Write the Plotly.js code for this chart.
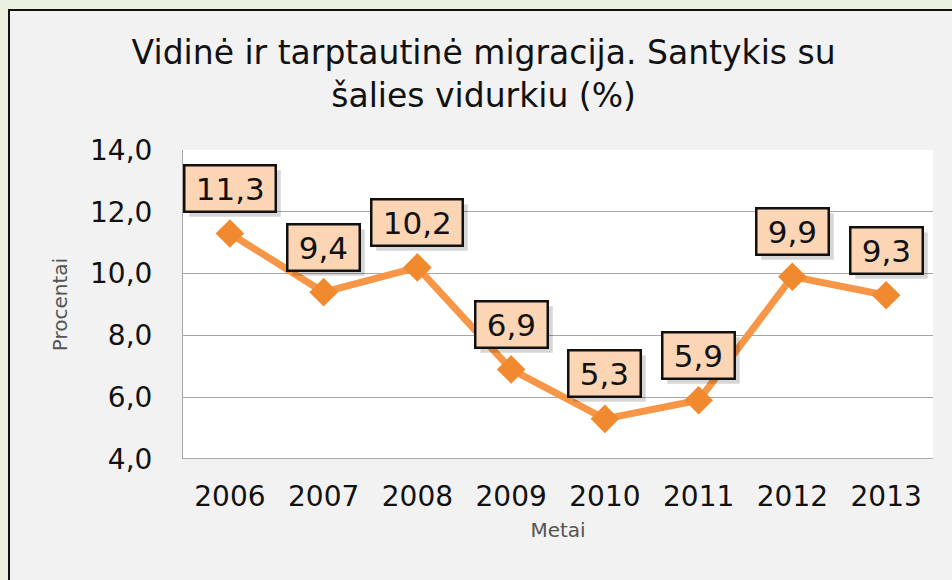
<!DOCTYPE html>
<html>
<head>
<meta charset="utf-8">
<script src="https://cdn.plot.ly/plotly-3.0.1.min.js"></script>
<style>
  html, body { margin: 0; padding: 0; width: 952px; height: 580px; overflow: hidden; background: #EBF1DE; }
  #wrap { position: absolute; left: 8px; top: 9px; width: 960px; height: 590px; border-left: 2.5px solid #111; border-top: 2.5px solid #111; background: #F2F2F2; overflow: hidden; }
  #chart { position: absolute; left: -10.5px; top: -11.5px; width: 952px; height: 580px; }
</style>
</head>
<body>
<div id="wrap"><div id="chart"></div></div>
<script>
const years = [2006, 2007, 2008, 2009, 2010, 2011, 2012, 2013];
const yearLabels = ['2006', '2007', '2008', '2009', '2010', '2011', '2012', '2013'];
const values = [11.3, 9.4, 10.2, 6.9, 5.3, 5.9, 9.9, 9.3];
const labels = ['11,3', '9,4', '10,2', '6,9', '5,3', '5,9', '9,9', '9,3'];
const yTicks = [4, 6, 8, 10, 12, 14];
const yTickText = ['4,0', '6,0', '8,0', '10,0', '12,0', '14,0'];

const font = 'DejaVu Sans, Verdana, sans-serif';

const trace = {
  x: years,
  y: values,
  type: 'scatter',
  mode: 'lines+markers',
  line: { color: '#F79646', width: 7 },
  marker: { symbol: 'diamond', size: 22, color: '#F18A2E', line: { width: 0 } },
  hoverinfo: 'skip'
};

// blank text of the same width, used only for the drop shadow box
const blank = s => '\u2009' + s.replace(/\d/g, '\u2007').replace(/,/g, '\u2008') + '\u2009';

const shadows = years.map((yr, i) => ({
  x: yr, y: values[i], xref: 'x', yref: 'y',
  text: blank(labels[i]), showarrow: false,
  yshift: 40, xshift: 5,
  font: { family: font, size: 31, color: 'rgba(0,0,0,0)' },
  bgcolor: 'rgba(0,0,0,0.16)', bordercolor: 'rgba(0,0,0,0)', borderwidth: 2.5, borderpad: 4
}));
const boxes = years.map((yr, i) => ({
  x: yr, y: values[i], xref: 'x', yref: 'y',
  text: '\u2009' + labels[i] + '\u2009', showarrow: false,
  yshift: 45,
  font: { family: font, size: 31, color: '#111' },
  bgcolor: '#FCD5B5', bordercolor: '#111', borderwidth: 2.5, borderpad: 4
}));

const layout = {
  width: 952, height: 580,
  margin: { l: 183, r: 19, t: 150, b: 121 },
  paper_bgcolor: 'rgba(0,0,0,0)',
  plot_bgcolor: '#FFFFFF',
  showlegend: false,
  title: {
    text: 'Vidinė ir tarptautinė migracija. Santykis su<br>šalies vidurkiu (%)',
    font: { family: font, size: 33, color: '#111' },
    x: 0.508, xanchor: 'center', y: 0.89, yanchor: 'top'
  },
  xaxis: {
    range: [2005.5, 2013.5],
    tickmode: 'array',
    tickvals: years,
    ticktext: yearLabels,
    tickfont: { family: font, size: 28, color: '#111' },
    showline: false, showgrid: false, zeroline: false, ticks: '',
    ticklabelstandoff: 18,
    title: { text: 'Metai', font: { family: font, size: 20, color: '#555' }, standoff: 10 },
    fixedrange: true
  },
  yaxis: {
    range: [4, 14],
    tickmode: 'array',
    tickvals: yTicks,
    ticktext: yTickText,
    tickfont: { family: font, size: 28, color: '#111' },
    showgrid: true, gridcolor: '#A6A6A6', gridwidth: 1,
    showline: true, linecolor: '#A6A6A6', linewidth: 1,
    zeroline: false, ticks: '',
    ticklabelstandoff: 24,
    title: { text: 'Procentai', font: { family: font, size: 20, color: '#555' }, standoff: 17 },
    fixedrange: true
  },
  shapes: [{ type: 'line', xref: 'paper', yref: 'y', x0: 0, x1: 1, y0: 4, y1: 4, line: { color: '#8C8C8C', width: 1.5 } }],
  annotations: shadows.concat(boxes)
};

Plotly.newPlot('chart', [trace], layout, { displayModeBar: false, staticPlot: true });
</script>
</body>
</html>
